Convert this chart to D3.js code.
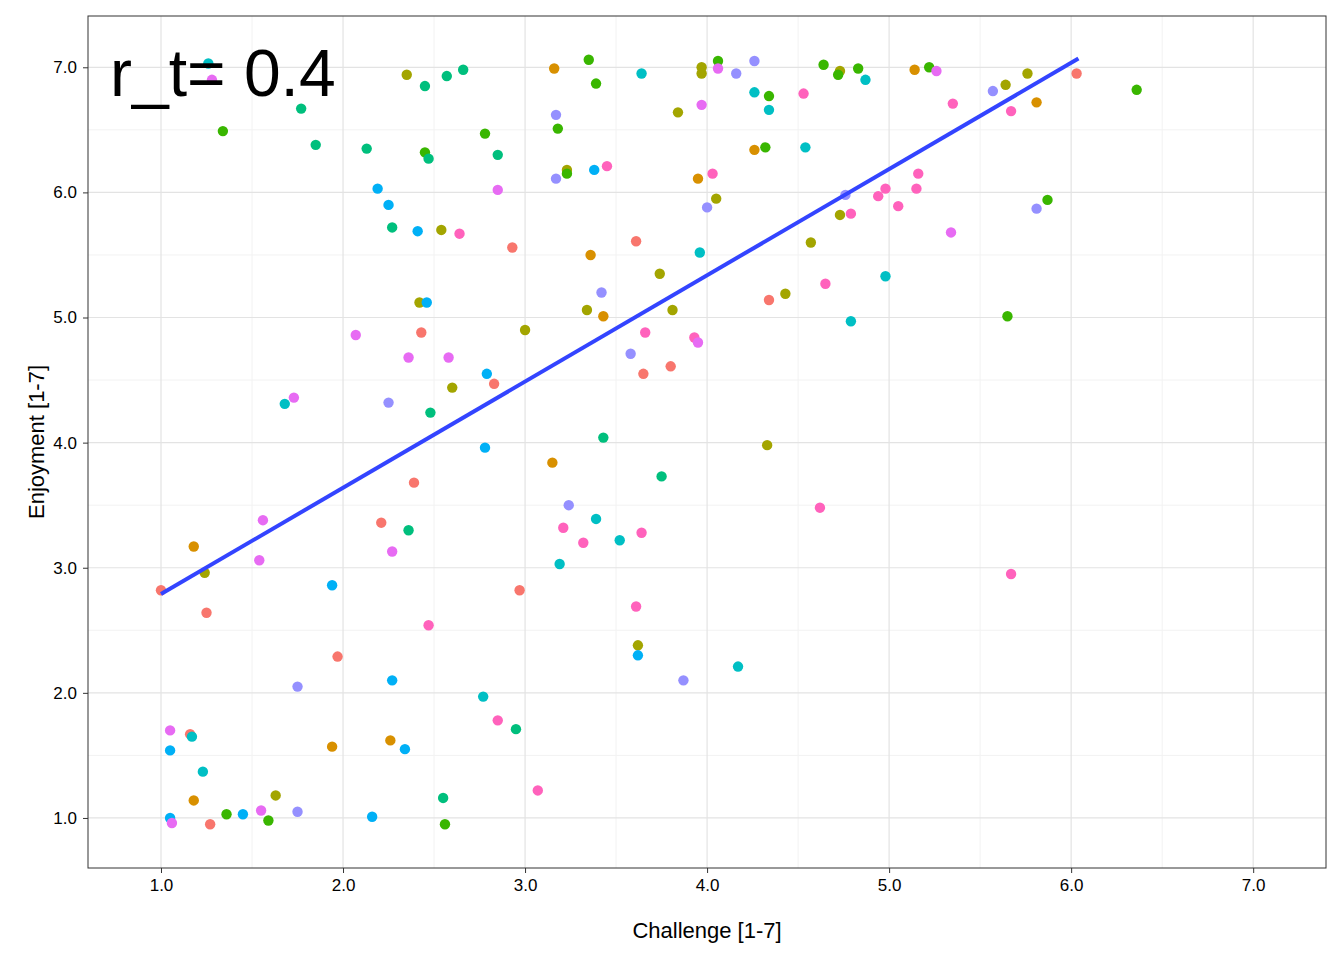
<!DOCTYPE html>
<html><head><meta charset="utf-8">
<script src="https://cdn.jsdelivr.net/npm/d3@7"></script>
<style>body{margin:0;background:#fff;font-family:"Liberation Sans",Arial,sans-serif}</style>
</head><body><div id="chart"></div>
<script>
// Data: [challenge, enjoyment, group]
const points = [
[1.26,7.03,"teal"],[1.28,6.90,"magenta"],[1.34,6.49,"green"],[1.77,6.67,"tealgreen"],[1.85,6.38,"tealgreen"],
[2.13,6.35,"tealgreen"],[2.35,6.94,"olive"],[2.45,6.85,"tealgreen"],[2.57,6.93,"tealgreen"],[2.66,6.98,"tealgreen"],
[2.78,6.47,"green"],[2.85,6.30,"tealgreen"],[2.45,6.32,"green"],[2.47,6.27,"tealgreen"],[2.19,6.03,"blue"],
[2.25,5.90,"blue"],[2.27,5.72,"tealgreen"],[2.41,5.69,"blue"],[2.54,5.70,"olive"],[2.64,5.67,"pink"],
[2.93,5.56,"red"],[2.85,6.02,"magenta"],[3.16,6.99,"orange"],[3.17,6.62,"purple"],[3.18,6.51,"green"],
[3.17,6.11,"purple"],[3.23,6.18,"olive"],[3.23,6.15,"green"],[3.35,7.06,"green"],[3.39,6.87,"green"],
[3.38,6.18,"blue"],[3.45,6.21,"pink"],[3.64,6.95,"teal"],[3.36,5.50,"orange"],[3.61,5.61,"red"],
[3.74,5.35,"olive"],[3.84,6.64,"olive"],[3.97,7.00,"olive"],[3.97,6.95,"olive"],[4.06,7.05,"green"],
[4.06,6.99,"magenta"],[4.16,6.95,"purple"],[4.26,7.05,"purple"],[3.97,6.70,"magenta"],[4.26,6.80,"teal"],
[4.34,6.77,"green"],[4.34,6.66,"teal"],[3.95,6.11,"orange"],[4.03,6.15,"pink"],[4.00,5.88,"purple"],
[4.05,5.95,"olive"],[4.26,6.34,"orange"],[4.32,6.36,"green"],[3.96,5.52,"teal"],[4.64,7.02,"green"],
[4.73,6.97,"olive"],[4.72,6.94,"green"],[4.83,6.99,"green"],[4.87,6.90,"teal"],[4.53,6.79,"pink"],
[4.54,6.36,"teal"],[4.76,5.98,"purple"],[4.57,5.60,"olive"],[4.73,5.82,"olive"],[4.79,5.83,"pink"],
[4.94,5.97,"pink"],[4.98,6.03,"pink"],[5.05,5.89,"pink"],[5.16,6.15,"pink"],[5.15,6.03,"pink"],
[5.14,6.98,"orange"],[5.22,7.00,"green"],[5.26,6.97,"magenta"],[5.35,6.71,"pink"],[5.34,5.68,"magenta"],
[5.57,6.81,"purple"],[5.64,6.86,"olive"],[5.76,6.95,"olive"],[5.67,6.65,"pink"],[5.81,6.72,"orange"],
[6.03,6.95,"red"],[6.36,6.82,"green"],[5.87,5.94,"green"],[5.81,5.87,"purple"],[4.98,5.33,"teal"],
[4.79,4.97,"teal"],[4.65,5.27,"pink"],[4.43,5.19,"olive"],[4.34,5.14,"red"],[5.65,5.01,"green"],
[5.67,2.95,"pink"],[4.62,3.48,"pink"],[4.33,3.98,"olive"],[4.17,2.21,"teal"],[3.87,2.10,"purple"],
[3.62,2.38,"olive"],[3.62,2.30,"blue"],[3.61,2.69,"pink"],[3.64,3.28,"pink"],[3.52,3.22,"teal"],
[3.39,3.39,"teal"],[3.32,3.20,"pink"],[3.24,3.50,"purple"],[3.21,3.32,"pink"],[3.19,3.03,"teal"],
[3.15,3.84,"orange"],[3.75,3.73,"tealgreen"],[3.43,4.04,"tealgreen"],[3.65,4.55,"red"],[3.66,4.88,"pink"],
[3.80,4.61,"red"],[3.93,4.84,"pink"],[3.95,4.80,"magenta"],[3.58,4.71,"purple"],[3.42,5.20,"purple"],
[3.34,5.06,"olive"],[3.43,5.01,"orange"],[3.81,5.06,"olive"],[3.00,4.90,"olive"],[2.79,4.55,"blue"],
[2.83,4.47,"red"],[2.78,3.96,"blue"],[2.60,4.44,"olive"],[2.58,4.68,"magenta"],[2.43,4.88,"red"],
[2.42,5.12,"olive"],[2.46,5.12,"blue"],[2.36,4.68,"magenta"],[2.25,4.32,"purple"],[2.48,4.24,"tealgreen"],
[2.07,4.86,"magenta"],[1.73,4.36,"magenta"],[1.68,4.31,"teal"],[2.39,3.68,"red"],[2.21,3.36,"red"],
[2.36,3.30,"tealgreen"],[2.27,3.13,"magenta"],[1.56,3.38,"magenta"],[1.54,3.06,"magenta"],[1.18,3.17,"orange"],
[1.24,2.96,"olive"],[1.00,2.82,"red"],[1.25,2.64,"red"],[1.94,2.86,"blue"],[1.97,2.29,"red"],
[1.75,2.05,"purple"],[2.27,2.10,"blue"],[2.47,2.54,"pink"],[2.97,2.82,"red"],[2.77,1.97,"teal"],
[2.85,1.78,"pink"],[2.95,1.71,"tealgreen"],[3.07,1.22,"pink"],[2.55,1.16,"tealgreen"],[2.56,0.95,"green"],
[2.26,1.62,"orange"],[2.34,1.55,"blue"],[2.16,1.01,"blue"],[1.94,1.57,"orange"],[1.63,1.18,"olive"],
[1.59,0.98,"green"],[1.55,1.06,"magenta"],[1.75,1.05,"purple"],[1.45,1.03,"blue"],[1.36,1.03,"green"],
[1.27,0.95,"red"],[1.18,1.14,"orange"],[1.23,1.37,"teal"],[1.16,1.67,"red"],[1.17,1.65,"teal"],
[1.05,1.70,"magenta"],[1.05,1.54,"blue"],[1.05,1.00,"blue"],[1.06,0.96,"magenta"]
];
const groups = ["red","orange","olive","green","tealgreen","teal","blue","purple","magenta","pink"];
const groupColors = ["#F8766D","#D89000","#A3A500","#39B600","#00BF7D","#00BFC4","#00B0F6","#9590FF","#E76BF3","#FF62BC"];
const fitX = [1.0, 6.04];
const fitY = [2.79, 7.07];
const ticks = [1,2,3,4,5,6,7];
const minorTicks = [1.5,2.5,3.5,4.5,5.5,6.5];

const W = 1344, H = 960;
const M = {left: 88, right: 18, top: 16, bottom: 92};

const svg = d3.select("#chart").append("svg").attr("width", W).attr("height", H);
const x = d3.scaleLinear().domain([0.599, 7.40]).range([M.left, W - M.right]);
const y = d3.scaleLinear().domain([0.6, 7.41]).range([H - M.bottom, M.top]);
const color = d3.scaleOrdinal().domain(groups).range(groupColors);

// grid
const g = svg.append("g");
g.selectAll(".vminor").data(minorTicks).enter().append("line")
  .attr("x1", d => x(d)).attr("x2", d => x(d)).attr("y1", M.top).attr("y2", H - M.bottom)
  .attr("stroke", "#f2f2f2").attr("stroke-width", 1);
g.selectAll(".hminor").data(minorTicks).enter().append("line")
  .attr("y1", d => y(d)).attr("y2", d => y(d)).attr("x1", M.left).attr("x2", W - M.right)
  .attr("stroke", "#f2f2f2").attr("stroke-width", 1);
g.selectAll(".vmajor").data(ticks).enter().append("line")
  .attr("x1", d => x(d)).attr("x2", d => x(d)).attr("y1", M.top).attr("y2", H - M.bottom)
  .attr("stroke", "#e3e3e3").attr("stroke-width", 1.2);
g.selectAll(".hmajor").data(ticks).enter().append("line")
  .attr("y1", d => y(d)).attr("y2", d => y(d)).attr("x1", M.left).attr("x2", W - M.right)
  .attr("stroke", "#e3e3e3").attr("stroke-width", 1.2);

// points
svg.append("g").selectAll("circle").data(points).enter().append("circle")
  .attr("cx", d => x(d[0])).attr("cy", d => y(d[1])).attr("r", 5.2)
  .attr("fill", d => color(d[2]));

// fit line
svg.append("line")
  .attr("x1", x(fitX[0])).attr("y1", y(fitY[0])).attr("x2", x(fitX[1])).attr("y2", y(fitY[1]))
  .attr("stroke", "#3344ff").attr("stroke-width", 4);

// border
svg.append("rect").attr("x", M.left).attr("y", M.top)
  .attr("width", W - M.left - M.right).attr("height", H - M.top - M.bottom)
  .attr("fill", "none").attr("stroke", "#333").attr("stroke-width", 1);

// axes
const xa = svg.append("g").attr("transform", `translate(0,${H - M.bottom})`)
  .call(d3.axisBottom(x).tickValues(ticks).tickSize(5).tickPadding(6));
const ya = svg.append("g").attr("transform", `translate(${M.left},0)`)
  .call(d3.axisLeft(y).tickValues(ticks).tickSize(5).tickPadding(6));
[xa, ya].forEach(a => {
  a.select(".domain").remove();
  a.selectAll("line").attr("stroke", "#333");
  a.selectAll("text").attr("fill", "#000").style("font-size", "17px").style("font-family", "Liberation Sans, Arial, sans-serif");
});

svg.append("text").attr("x", (M.left + W - M.right) / 2).attr("y", 938)
  .attr("text-anchor", "middle").style("font-size", "22px").text("Challenge [1-7]");
svg.append("text").attr("transform", `translate(44,${(M.top + H - M.bottom) / 2}) rotate(-90)`)
  .attr("text-anchor", "middle").style("font-size", "22px").text("Enjoyment [1-7]");

svg.append("text").attr("x", 110).attr("y", 96).style("font-size", "66px").text("r_t= 0.4");
</script></body></html>
